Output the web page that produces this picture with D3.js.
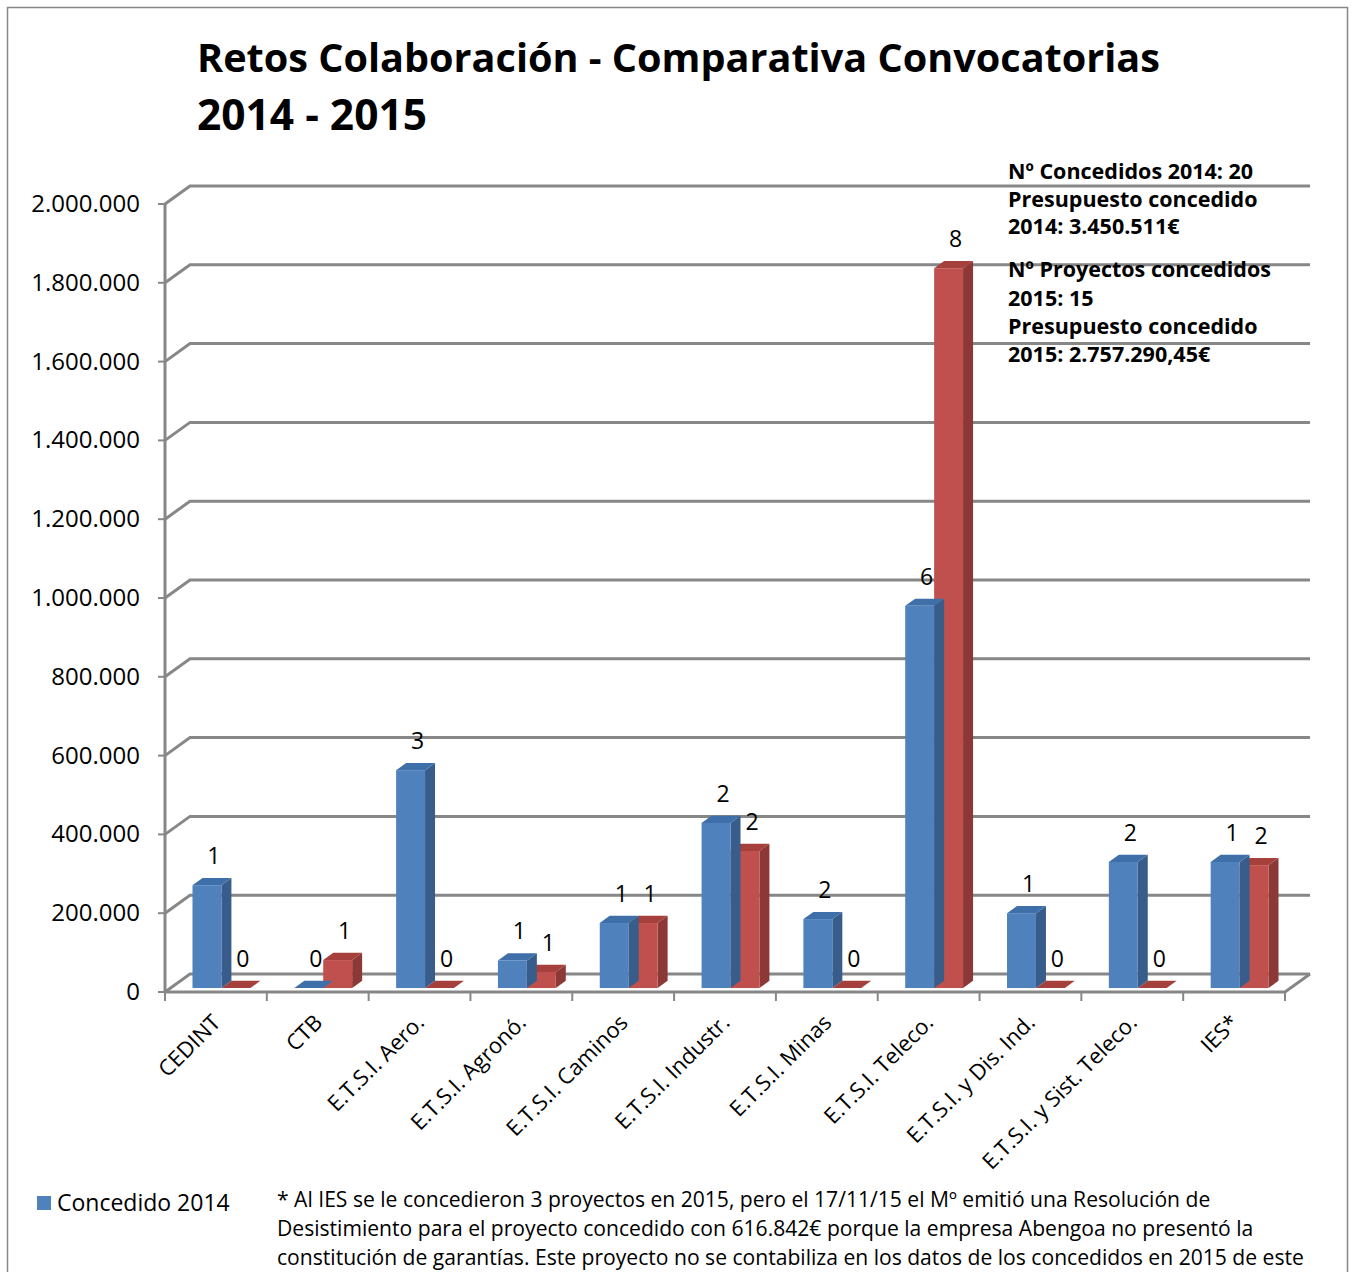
<!DOCTYPE html>
<html>
<head>
<meta charset="utf-8">
<script src="https://cdn.jsdelivr.net/npm/d3@7"></script>
<style>
  body { margin: 0; background: #fff; }
  svg text { font-family: "Open Sans", sans-serif; fill: #000; }
</style>
</head>
<body>
<svg id="chart" width="1352" height="1272"></svg>
<script>
// categories and values
const categories = ['CEDINT', 'CTB', 'E.T.S.I. Aero.', 'E.T.S.I. Agronó.', 'E.T.S.I. Caminos',
  'E.T.S.I. Industr.', 'E.T.S.I. Minas', 'E.T.S.I. Teleco.', 'E.T.S.I. y Dis. Ind.',
  'E.T.S.I. y Sist. Teleco.', 'IES*']
const series = ['Concedido 2014', 'Concedido 2015']
const amount2014 = [261000, 0, 553000, 70000, 165000, 419000, 175000, 970000, 190000, 320000, 320000]
const amount2015 = [0, 71000, 0, 41000, 165000, 348000, 0, 1827000, 0, 0, 312000]
const count2014 = [1, 0, 3, 1, 1, 2, 2, 6, 1, 2, 1]
const count2015 = [0, 1, 0, 1, 1, 2, 0, 8, 0, 0, 2]
const yTicks = [0, 200000, 400000, 600000, 800000, 1000000, 1200000, 1400000, 1600000, 1800000, 2000000]
const titleLines = ['Retos Colaboración - Comparativa Convocatorias', '2014 - 2015']
const noteLines = ['Nº Concedidos 2014: 20', 'Presupuesto concedido', '2014: 3.450.511€',
  'Nº Proyectos concedidos', '2015: 15', 'Presupuesto concedido', '2015: 2.757.290,45€']
const footnote = [
  '* Al IES se le concedieron 3 proyectos en 2015, pero el 17/11/15 el Mº emitió una Resolución de',
  'Desistimiento para el proyecto concedido con 616.842€ porque la empresa Abengoa no presentó la',
  'constitución de garantías. Este proyecto no se contabiliza en los datos de los concedidos en 2015 de este'
]

const colors = {
  '2014': { front: '#4F81BD', side: '#385D8A', top: '#3F6FA8' },
  '2015': { front: '#C0504D', side: '#8C3836', top: '#A5403D' }
}

const svg = d3.select('#chart')
const fmt = d3.formatLocale({ decimal: ',', thousands: '.', grouping: [3], currency: ['', '€'] }).format(',d')

// fit a text element to the width it has in the reference
function fitWidth(sel, w) {
  sel.each(function () {
    const len = this.getComputedTextLength()
    const fs = parseFloat(this.getAttribute('font-size'))
    this.setAttribute('font-size', (fs * w / len).toFixed(2))
  })
}

// outer frame
svg.append('rect').attr('x', 7.5).attr('y', 7.5).attr('width', 1340).attr('height', 1290)
  .attr('fill', 'none').attr('stroke', '#878787').attr('stroke-width', 1.5)

// title
const title = svg.append('g').selectAll('text').data(titleLines).join('text')
  .attr('x', 197).attr('y', (d, i) => 72 + i * 58)
  .attr('font-size', 40).attr('font-weight', 'bold')
  .text(d => d)
fitWidth(title.filter((d, i) => i === 0), 963)
fitWidth(title.filter((d, i) => i === 1), 230)

// 3D projection: depth 0 = front plane, 1 = back wall
const depth = { dx: 25, dy: -18 }
const x = d3.scaleBand().domain(categories).range([165, 1285])
const y = d3.scaleLinear().domain([0, 2000000]).range([992, 204])
const inner = d3.scaleBand().domain(['2014', '2015']).range([0, x.bandwidth()]).paddingOuter(0.76)

const grid = svg.append('g').attr('stroke', '#878787').attr('stroke-width', 3).attr('fill', 'none')

// back wall and side wall gridlines
grid.selectAll('path.grid').data(yTicks).join('path')
  .attr('class', 'grid')
  .attr('d', d => `M165,${y(d)} L${165 + depth.dx},${y(d) + depth.dy} H${1285 + depth.dx}`)

// floor front and right edges
grid.append('path')
  .attr('d', `M165,${y(0)} H1285 L${1285 + depth.dx},${y(0) + depth.dy}`)

// value axis line + ticks
grid.append('path').attr('d', `M165,${y(2000000)} V${y(0)}`)
grid.selectAll('path.ytick').data(yTicks).join('path')
  .attr('class', 'ytick').attr('stroke-width', 2)
  .attr('d', d => `M158,${y(d)} H165`)

// category ticks
grid.selectAll('path.xtick').data(categories.concat(['end'])).join('path')
  .attr('class', 'xtick').attr('stroke-width', 2)
  .attr('d', (d, i) => {
    const px = i < categories.length ? x(d) : x.range()[1]
    return `M${px},${y(0)} V${y(0) + 9}`
  })

// y labels
svg.append('g').selectAll('text').data(yTicks).join('text')
  .attr('x', 140).attr('y', d => y(d) + 8)
  .attr('text-anchor', 'end').attr('font-size', 24)
  .text(d => fmt(d))

// bars
const rows = []
categories.forEach((c, i) => {
  rows.push({ cat: c, key: '2014', value: amount2014[i], count: count2014[i] })
  rows.push({ cat: c, key: '2015', value: amount2015[i], count: count2015[i] })
})
// draw right-to-left so the side faces are overlapped correctly
rows.sort((a, b) => (x(b.cat) + inner(b.key)) - (x(a.cat) + inner(a.key)))

const f0 = 0.22, f1 = 0.62
const bars = svg.append('g')
rows.forEach(d => {
  const x0 = x(d.cat) + inner(d.key) + depth.dx * f0
  const x1 = x0 + inner.bandwidth()
  const yb = y(0) + depth.dy * f0
  const yt = y(d.value) + depth.dy * f0
  const ddx = depth.dx * (f1 - f0), ddy = depth.dy * (f1 - f0)
  const c = colors[d.key]
  const g = bars.append('g')
  g.append('path').attr('fill', c.side)
    .attr('d', `M${x1},${yb} L${x1 + ddx},${yb + ddy} L${x1 + ddx},${yt + ddy} L${x1},${yt} Z`)
  g.append('path').attr('fill', c.top)
    .attr('d', `M${x0},${yt} L${x0 + ddx},${yt + ddy} L${x1 + ddx},${yt + ddy} L${x1},${yt} Z`)
  if (d.value > 0) {
    g.append('rect').attr('fill', c.front)
      .attr('x', x0).attr('y', yt).attr('width', x1 - x0).attr('height', yb - yt)
  }
  g.append('text')
    .attr('x', (x0 + x1) / 2 + 7).attr('y', yt - 21)
    .attr('text-anchor', 'middle').attr('font-size', 23)
    .text(d.count)
})

// category labels
svg.append('g').selectAll('text').data(categories).join('text')
  .attr('transform', d => `translate(${x(d) + x.bandwidth() / 2 + 6},${y(0) + 32}) rotate(-45)`)
  .attr('text-anchor', 'end').attr('font-size', 22)
  .text(d => d)

// notes on the right
svg.append('g').selectAll('text').data(noteLines).join('text')
  .attr('x', 1008)
  .attr('y', (d, i) => [179, 207, 234, 277, 306, 334, 362][i])
  .attr('font-size', 21.5).attr('font-weight', 'bold')
  .text(d => d)

// legend
const legend = svg.append('g')
legend.append('rect').attr('x', 37).attr('y', 1196).attr('width', 14).attr('height', 14)
  .attr('fill', colors['2014'].front)
legend.append('text').attr('x', 57).attr('y', 1211).attr('font-size', 23).text(series[0])

// footnote
svg.append('g').selectAll('text').data(footnote).join('text')
  .attr('x', 277).attr('y', (d, i) => 1207 + i * 29)
  .attr('font-size', 21.1)
  .text(d => d)
</script>
</body>
</html>
